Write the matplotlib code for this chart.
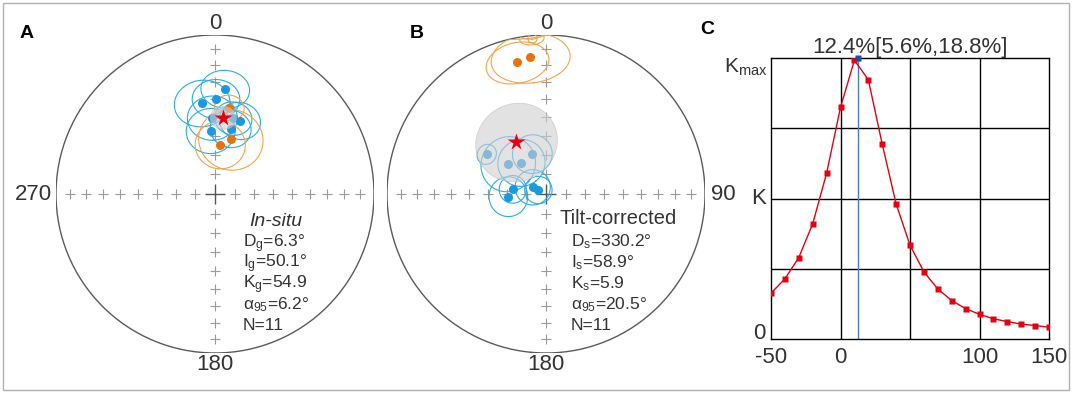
import numpy as np
import matplotlib
matplotlib.use("Agg")
import matplotlib.pyplot as plt
from matplotlib.patches import Circle, Rectangle, Polygon

plt.rcParams['font.family'] = ['Liberation Sans', 'DejaVu Sans']
plt.rcParams['mathtext.fontset'] = 'custom'
plt.rcParams['mathtext.rm'] = 'Liberation Sans'
plt.rcParams['mathtext.it'] = 'Liberation Sans:italic'

# ---------------- data ----------------
site_color = ['blue'] * 8 + ['orange'] * 3

insitu_dec = [5.6, 351.9, 0.6, 358.0, 18.8, 13.6, 356.1, 13.5, 9.4, 16.3, 6.1]
insitu_inc = [34.0, 41.7, 39.8, 50.3, 49.7, 49.5, 57.2, 55.2, 44.2, 60.6, 64.5]
insitu_a95 = [11, 13, 11, 12, 10, 9, 12, 10, 7, 16, 12.5]

tilt_dec = [303.8, 308.3, 321.7, 341.1, 265.9, 278.0, 296.7, 297.5, 347.7, 353.5, 354.8]
tilt_inc = [53.0, 65.1, 69.6, 68.3, 70.6, 72.8, 82.4, 85.6, 16.2, 14.3, -2.0]
tilt_a95 = [5, 14, 12, 10, 10, 7, 9, 7, 13, 16, 4.5]

mean_insitu = (6.3, 50.1, 6.2)
mean_tilt = (330.2, 58.9, 20.5)

insitu_lines = ['D$_{\\mathregular{g}}$=6.3°', 'I$_{\\mathregular{g}}$=50.1°',
                'K$_{\\mathregular{g}}$=54.9', 'α$_{\\mathregular{95}}$=6.2°', 'N=11']
tilt_lines = ['D$_{\\mathregular{s}}$=330.2°', 'I$_{\\mathregular{s}}$=58.9°',
              'K$_{\\mathregular{s}}$=5.9', 'α$_{\\mathregular{95}}$=20.5°', 'N=11']

unfold_pct = [-50, -40, -30, -20, -10, 0, 10, 20, 30, 40, 50, 60, 70, 80, 90,
              100, 110, 120, 130, 140, 150]
k_rel = [0.163, 0.214, 0.290, 0.410, 0.590, 0.824, 0.992, 0.923, 0.694, 0.481,
         0.334, 0.239, 0.178, 0.137, 0.108, 0.088, 0.072, 0.062, 0.053, 0.048, 0.042]
best_pct = 12.4
x_ticks = [-50, 0, 50, 100, 150]
x_ticklabels = ['-50', '0', '', '100', '150']
y_labels = ['0', 'K', 'K$_{\\mathregular{max}}$']
c_title = '12.4%[5.6%,18.8%]'

# ---------------- styling ----------------
W, H = 1072, 393
fig = plt.figure(figsize=(W / 100, H / 100), dpi=100)
TXT = '#333333'
BLUE_PT = '#1C98DE'
BLUE_LN = '#2AAEE6'
OR_PT = '#E8730C'
OR_LN = '#F4A64A'


def eqarea(dec, inc):
    dec = np.radians(np.asarray(dec, float))
    inc = np.radians(np.abs(np.asarray(inc, float)))
    r = np.sqrt(2) * np.sin((np.pi / 2 - inc) / 2)
    return r * np.sin(dec), r * np.cos(dec)


def small_circle(dec, inc, a, n=241):
    D, I, A = np.radians(dec), np.radians(inc), np.radians(a)
    u = np.array([np.cos(I) * np.cos(D), np.cos(I) * np.sin(D), np.sin(I)])
    v = np.array([-np.sin(I) * np.cos(D), -np.sin(I) * np.sin(D), np.cos(I)])
    w = np.cross(u, v)
    t = np.linspace(0, 2 * np.pi, n)
    p = np.cos(A) * u[:, None] + np.sin(A) * (np.cos(t) * v[:, None] + np.sin(t) * w[:, None])
    incp = np.degrees(np.arcsin(np.clip(p[2], -1, 1)))
    decp = np.degrees(np.arctan2(p[1], p[0]))
    return eqarea(decp, incp)


def net_axes(cx, cy, r):
    ax = fig.add_axes([(cx - r) / W, (H - cy - r) / H, 2 * r / W, 2 * r / H])
    ax.set_xlim(-1, 1)
    ax.set_ylim(-1, 1)
    ax.axis('off')
    rim = Circle((0, 0), 1, fill=False, ec='#5a5a5a', lw=1.0, zorder=2)
    ax.add_patch(rim)
    tick_inc = np.arange(10, 90, 10)
    rr = np.sqrt(2) * np.sin(np.radians(90 - tick_inc) / 2)
    kw = dict(ls='none', marker='+', color='#9a9a9a', ms=7, mew=0.8, zorder=1)
    ax.plot(np.zeros_like(rr), rr, **kw)
    ax.plot(np.zeros_like(rr), -rr, **kw)
    ax.plot(rr, np.zeros_like(rr), **kw)
    ax.plot(-rr, np.zeros_like(rr), **kw)
    ax.plot([0], [0], ls='none', marker='+', color='#555555', ms=14, mew=1.0, zorder=1)
    return ax, rim


def draw_sites(ax, rim, decs, incs, a95s, mean):
    for d, i, a, c in zip(decs, incs, a95s, site_color):
        x, y = small_circle(d, i, a)
        ln, = ax.plot(x, y, color=BLUE_LN if c == 'blue' else OR_LN, lw=0.8, zorder=2)
        ln.set_clip_path(rim)
    for d, i, c in zip(decs, incs, site_color):
        x, y = eqarea(d, i)
        col = BLUE_PT if c == 'blue' else OR_PT
        if i >= 0:
            ax.plot([x], [y], 'o', color=col, ms=6.5, mec='none', zorder=3)
        else:
            ax.plot([x], [y], 'o', mfc='none', mec=OR_LN, mew=0.8, ms=6.5, zorder=3)
    mx, my = small_circle(*mean)
    poly = Polygon(np.column_stack([mx, my]), closed=True, fc='#cfcfcf', alpha=0.6,
                   ec='#bdbdbd', lw=0.6, zorder=4)
    ax.add_patch(poly)
    sx, sy = eqarea(mean[0], mean[1])
    ax.plot([sx], [sy], marker='*', color='#E60012', ms=13, mec='none', zorder=5)


LBL = 16
BODY = 12.5

# ---------------- Panel A ----------------
axA, rimA = net_axes(215, 194, 159)
draw_sites(axA, rimA, insitu_dec, insitu_inc, insitu_a95, mean_insitu)
axA.text(0, 1.075, '0', ha='center', va='center', fontsize=LBL, color=TXT)
axA.text(0, -1.075, '180', ha='center', va='center', fontsize=LBL, color=TXT)
axA.text(-1.025, 0, '270', ha='right', va='center', fontsize=LBL, color=TXT)
axA.text(0.38, -0.20, 'In-situ', ha='center', va='baseline', fontsize=14,
         style='italic', color=TXT)
for k, s in enumerate(insitu_lines):
    axA.text(0.176, -0.333 - k * 0.131, s, ha='left', va='baseline', fontsize=BODY, color=TXT)

# ---------------- Panel B ----------------
axB, rimB = net_axes(546, 194, 159)
draw_sites(axB, rimB, tilt_dec, tilt_inc, tilt_a95, mean_tilt)
axB.text(0, 1.075, '0', ha='center', va='center', fontsize=LBL, color=TXT)
axB.text(0, -1.075, '180', ha='center', va='center', fontsize=LBL, color=TXT)
axB.text(1.04, 0, '90', ha='left', va='center', fontsize=LBL, color=TXT)
axB.text(0.088, -0.19, 'Tilt-corrected', ha='left', va='baseline', fontsize=14.5, color=TXT)
for k, s in enumerate(tilt_lines):
    axB.text(0.157, -0.326 - k * 0.133, s, ha='left', va='baseline', fontsize=BODY, color=TXT)

# ---------------- Panel C ----------------
axC = fig.add_axes([771 / W, (H - 339) / H, 278 / W, 281 / H])
axC.set_xlim(-50, 150)
axC.set_ylim(0, 1)
for xv in [0, 50, 100]:
    axC.axvline(xv, color='black', lw=1.0, zorder=1)
for yv in [0.25, 0.5, 0.75]:
    axC.axhline(yv, color='black', lw=1.0, zorder=1)
for sp in axC.spines.values():
    sp.set_color('black')
    sp.set_linewidth(1.0)
axC.plot(unfold_pct, k_rel, '-s', color='#E60012', lw=1.0, ms=4.5, mec='none', zorder=3)
axC.plot([best_pct, best_pct], [0, 1], color='#4A7BD0', lw=1.0, zorder=2)
axC.plot([best_pct], [1.0], 's', color='#1F4E99', ms=4.5, mec='none', zorder=4, clip_on=False)
axC.set_xticks(x_ticks)
axC.set_xticklabels(x_ticklabels, fontsize=16, color=TXT)
axC.set_yticks([])
axC.tick_params(axis='x', length=0, pad=6)
axC.text(-0.018, 0.018, y_labels[0], transform=axC.transAxes, ha='right', va='center',
         fontsize=16, color=TXT)
axC.text(-0.018, 0.5, y_labels[1], transform=axC.transAxes, ha='right', va='center',
         fontsize=16, color=TXT)
axC.text(-0.012, 0.965, y_labels[2], transform=axC.transAxes, ha='right',
         va='center', fontsize=15, color=TXT)
axC.set_title(c_title, fontsize=16, color=TXT, pad=2)

# ---------------- panel letters & border ----------------
fig.text(27 / W, 1 - 33 / H, 'A', fontsize=14, fontweight='bold', ha='center', va='center')
fig.text(417 / W, 1 - 33 / H, 'B', fontsize=14, fontweight='bold', ha='center', va='center')
fig.text(707 / W, 1 - 29 / H, 'C', fontsize=14, fontweight='bold', ha='center', va='center')
fig.patches.append(Rectangle((3 / W, 3 / H), 1066 / W, 387 / H, transform=fig.transFigure,
                             fill=False, ec='#b0b0b0', lw=1.0))

fig.savefig('out.png', dpi=100)
